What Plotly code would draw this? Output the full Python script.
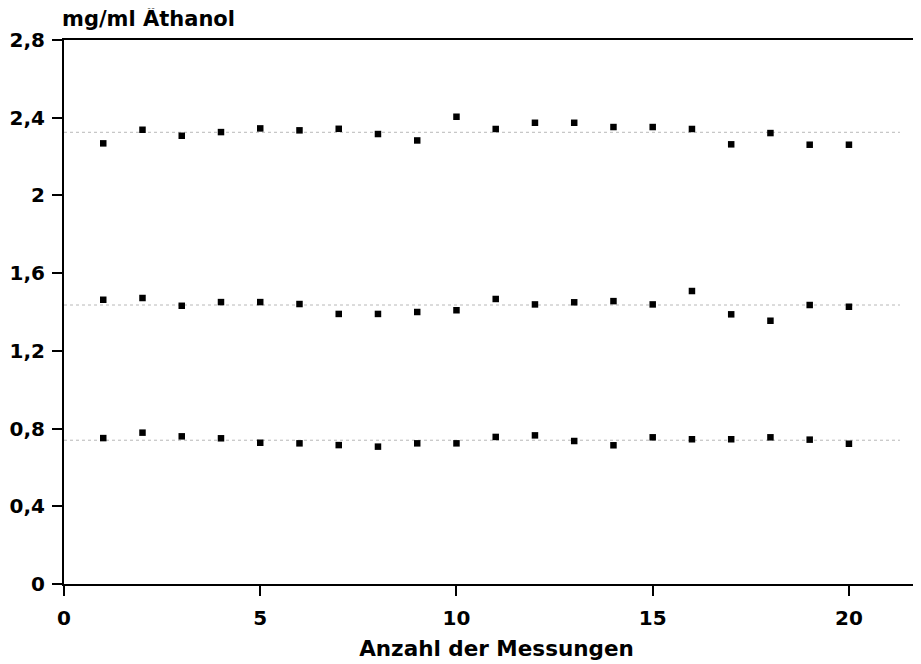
import plotly.graph_objects as go

messungen = list(range(1, 21))
hoch = [2.268, 2.338, 2.307, 2.326, 2.345, 2.335, 2.343, 2.316, 2.283, 2.405,
        2.342, 2.374, 2.374, 2.352, 2.352, 2.342, 2.263, 2.321, 2.261, 2.261]
mittel = [1.463, 1.472, 1.432, 1.451, 1.451, 1.441, 1.390, 1.390, 1.400, 1.409,
          1.467, 1.439, 1.450, 1.456, 1.439, 1.508, 1.388, 1.355, 1.436, 1.427]
niedrig = [0.751, 0.779, 0.760, 0.750, 0.727, 0.724, 0.715, 0.707, 0.724, 0.724,
           0.757, 0.765, 0.736, 0.714, 0.755, 0.745, 0.745, 0.755, 0.743, 0.722]
sollwerte = [2.325, 1.436, 0.740]
ref_x = [0, 21.3]

y_ticks = [0, 0.4, 0.8, 1.2, 1.6, 2.0, 2.4, 2.8]
y_labels = ["0", "0,4", "0,8", "1,2", "1,6", "2", "2,4", "2,8"]
x_ticks = [0, 5, 10, 15, 20]
x_labels = ["0", "5", "10", "15", "20"]

FONT = "DejaVu Sans, Liberation Sans, sans-serif"

fig = go.Figure()
for s in sollwerte:
    fig.add_trace(go.Scatter(x=ref_x, y=[s, s], mode="lines",
                             line=dict(color="#b8b8b8", width=1, dash="dot"),
                             hoverinfo="skip", showlegend=False))
for serie in (hoch, mittel, niedrig):
    fig.add_trace(go.Scatter(x=messungen, y=serie, mode="markers",
                             marker=dict(symbol="square", size=6.5, color="black"),
                             showlegend=False))

fig.update_layout(
    width=921, height=664,
    margin=dict(l=56, r=0, t=32, b=88),
    plot_bgcolor="white", paper_bgcolor="white",
    font=dict(family=FONT, color="black", size=19, weight="bold"),
    xaxis=dict(range=[0, 22.04], tickvals=x_ticks, ticktext=x_labels,
               showgrid=False, zeroline=False, showline=True, linecolor="black",
               linewidth=2, mirror=True, ticks="outside", ticklen=10,
               tickwidth=1.5, tickcolor="black", ticklabelstandoff=5,
               tickfont=dict(size=20, family=FONT, weight="bold"),
               title=dict(text="Anzahl der Messungen",
                          font=dict(size=21.5, family=FONT, weight="bold"),
                          standoff=12)),
    yaxis=dict(range=[0, 2.8], tickvals=y_ticks, ticktext=y_labels,
               showgrid=False, zeroline=False, showline=True, linecolor="black",
               linewidth=2, ticks="outside", ticklen=10, tickwidth=1.5,
               tickcolor="black", ticklabelstandoff=3,
               tickfont=dict(size=20, family=FONT, weight="bold")),
    annotations=[dict(text="mg/ml Äthanol", xref="paper", yref="paper",
                      x=0, y=1, xanchor="left", yanchor="middle", yshift=22,
                      xshift=-4, showarrow=False,
                      font=dict(size=21, family=FONT, weight="bold"))],
)

fig.write_html("out.html")
